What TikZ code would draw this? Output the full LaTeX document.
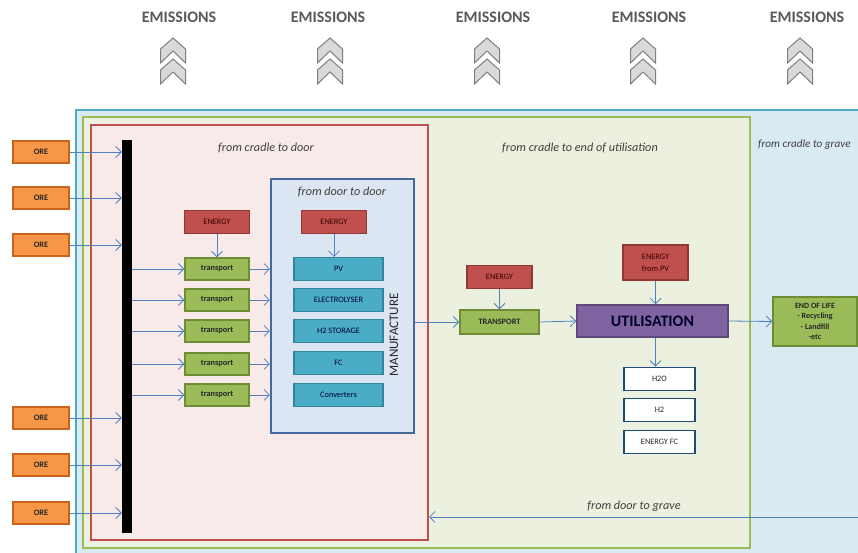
\documentclass[tikz,border=0pt]{standalone}
\usepackage{fontspec}
\setmainfont{Carlito}
\usetikzlibrary{arrows.meta}
\definecolor{outerB}{HTML}{4BACC6}
\definecolor{outerF}{HTML}{DAEAF3}
\definecolor{greenB}{HTML}{9BBB59}
\definecolor{greenF}{HTML}{EBF1DE}
\definecolor{redB}{HTML}{C0504D}
\definecolor{redF}{HTML}{F9EAEA}
\definecolor{doorB}{HTML}{41699C}
\definecolor{doorF}{HTML}{DCE6F2}
\definecolor{oreF}{HTML}{F79646}
\definecolor{oreB}{HTML}{C8641C}
\definecolor{trF}{HTML}{9BBB59}
\definecolor{trB}{HTML}{6E8C35}
\definecolor{enF}{HTML}{C0504D}
\definecolor{enB}{HTML}{943634}
\definecolor{cyF}{HTML}{4BACC6}
\definecolor{cyB}{HTML}{31859C}
\definecolor{whB}{HTML}{1F497D}
\definecolor{utF}{HTML}{8064A2}
\definecolor{utB}{HTML}{5F497A}
\definecolor{arrC}{HTML}{4F81BD}
\definecolor{emT}{HTML}{595959}
\definecolor{chF}{HTML}{D9D9D9}
\definecolor{chB}{HTML}{7F7F7F}
\begin{document}
\begin{tikzpicture}[x=1pt,y=-1pt,
  box/.style={rectangle,inner sep=0pt,align=center,font=\fontsize{8.3}{9}\selectfont,text=black!85},
  orebox/.style={box,fill=oreF,draw=oreB,line width=1.2pt,minimum width=56pt,minimum height=22pt},
  trbox/.style={box,fill=trF,draw=trB,line width=1.3pt,minimum width=64pt,minimum height=22pt,font=\fontsize{8.3}{9}\selectfont\bfseries},
  enbox/.style={box,fill=enF,draw=enB,line width=1.2pt,minimum width=65pt,minimum height=23pt,text=black!80!red},
  cybox/.style={box,fill=cyF,draw=cyB,line width=1.2pt,minimum width=89pt,minimum height=23pt,text=black!80!blue},
  whbox/.style={box,fill=white,draw=whB,line width=1.8pt,minimum width=71pt,minimum height=23pt},
  frame/.style={rectangle,inner sep=0pt},
  lab/.style={font=\fontsize{12.2}{14}\selectfont\itshape,text=black!75,inner sep=0pt},
  arr/.style={draw=arrC,line width=0.8pt,-{Straight Barb[length=5.5pt,width=11pt,line width=0.8pt]}},
  emis/.style={font=\fontsize{16}{18}\selectfont\bfseries,text=emT,inner sep=0pt},
  chevron/.pic={
    \foreach \dy in {0,21}{
      \filldraw[fill=chF,draw=chB,line width=1pt,line join=miter]
        (0,\dy) -- (12.5,\dy+11) -- (12.5,\dy+25) -- (0,\dy+13) -- (-12.5,\dy+25) -- (-12.5,\dy+11) -- cycle;
    }
  }]
\clip (0,0) rectangle (858,553);
\fill[white] (0,0) rectangle (858,553);
% frames
\draw[fill=outerF,draw=outerB,line width=2pt] (76,110) rectangle (880,580);
\node[frame,fill=greenF,draw=greenB,line width=2pt,minimum width=667pt,minimum height=431pt] (green) at (416.5,332.5) {};
\node[frame,fill=redF,draw=redB,line width=2pt,minimum width=337pt,minimum height=415pt] (red) at (259.5,332.5) {};
\node[frame,fill=doorF,draw=doorB,line width=2.2pt,minimum width=143pt,minimum height=254pt] (door) at (342.5,306) {};
% labels
\node[lab] (lcd) at (266,148) {from cradle to door};
\node[lab] (lce) at (580,148) {from cradle to end of utilisation};
\node[lab,anchor=west,font=\fontsize{11.2}{13}\selectfont\itshape] (lcg) at (758,145) {from cradle to grave};
\node[lab] (ldd) at (342,192) {from door to door};
\node[lab] (ldg) at (634,506) {from door to grave};
\node[rotate=90,font=\fontsize{13}{14}\selectfont,text=black!85,inner sep=0pt] (manu) at (394,335) {MANUFACTURE};
% emissions
\foreach \x/\cx/\n in {179/173/1,328/330/2,493/487/3,649/643/4,807/800/5}{
  \node[emis] (em\n) at (\x,17) {EMISSIONS};
  \pic at (\cx,38) {chevron};
}
% black bar
\node[frame,fill=black,minimum width=10pt,minimum height=393pt] (bar) at (127,336.5) {};
% ORE
\foreach \y/\n in {152/1,198/2,245/3,418/4,465/5,513/6}{
  \node[orebox] (o\n) at (41,\y) {\textbf{ORE}};
  \draw[arr] (o\n.east) -- (bar.west |- o\n);
}
% transports
\node[enbox] (e1) at (217,222) {ENERGY};
\foreach \y/\n in {269/1,300/2,331/3,364/4,395/5}{
  \node[trbox] (t\n) at (217,\y) {transport};
  \draw[arr] (bar.east |- t\n) -- (t\n.west);
  \draw[arr] (t\n.east) -- (door.west |- t\n);
}
\draw[arr] (e1.south) -- (t1.north);
% door contents
\node[enbox] (e2) at (334,222) {ENERGY};
\node[cybox] (pv) at (338.5,269) {PV};
\node[cybox] (el) at (338.5,300) {ELECTROLYSER};
\node[cybox] (hs) at (338.5,331) {H2 STORAGE};
\node[cybox] (fc) at (338.5,363) {FC};
\node[cybox] (cv) at (338.5,395) {Converters};
\draw[arr] (e2.south) -- (e2.south |- pv.north);
% transport / utilisation
\node[trbox,minimum width=79pt,minimum height=24pt] (T) at (499.5,322) {TRANSPORT};
\node[enbox] (e3) at (499.5,277) {ENERGY};
\node[box,fill=utF,draw=utB,line width=1.5pt,minimum width=151pt,minimum height=32pt,font=\fontsize{16}{17}\selectfont\bfseries,text=black!85!blue] (U) at (652.5,321) {UTILISATION};
\node[enbox,minimum height=35pt,font=\fontsize{8.3}{12}\selectfont] (e4) at (655.5,262.5) {ENERGY\\from PV};
\draw[arr] (door.east |- T) -- (T.west);
\draw[arr] (e3.south) -- (T.north);
\draw[arr] (T.east) -- (U.west);
\draw[arr] (e4.south) -- (e4.south |- U.north);
\node[whbox] (h2o) at (659.5,379) {H2O};
\node[whbox] (h2) at (659.5,410) {H2};
\node[whbox] (efc) at (659.5,442) {ENERGY FC};
\draw[arr] (e4.south |- U.south) -- (e4.south |- h2o.north);
% end of life
\node[box,fill=trF,draw=trB,line width=1.5pt,minimum width=84pt,minimum height=49pt,font=\fontsize{8}{10.5}\selectfont\bfseries] (eol) at (815,321.5) {END OF LIFE\\- Recycling\\- Landfill\\-etc};
\draw[arr] (U.east) -- (eol.west);
% door to grave
\coordinate (rg) at (858,517);
\draw[arr] (rg) -- (red.east |- rg);
\end{tikzpicture}
\end{document}
